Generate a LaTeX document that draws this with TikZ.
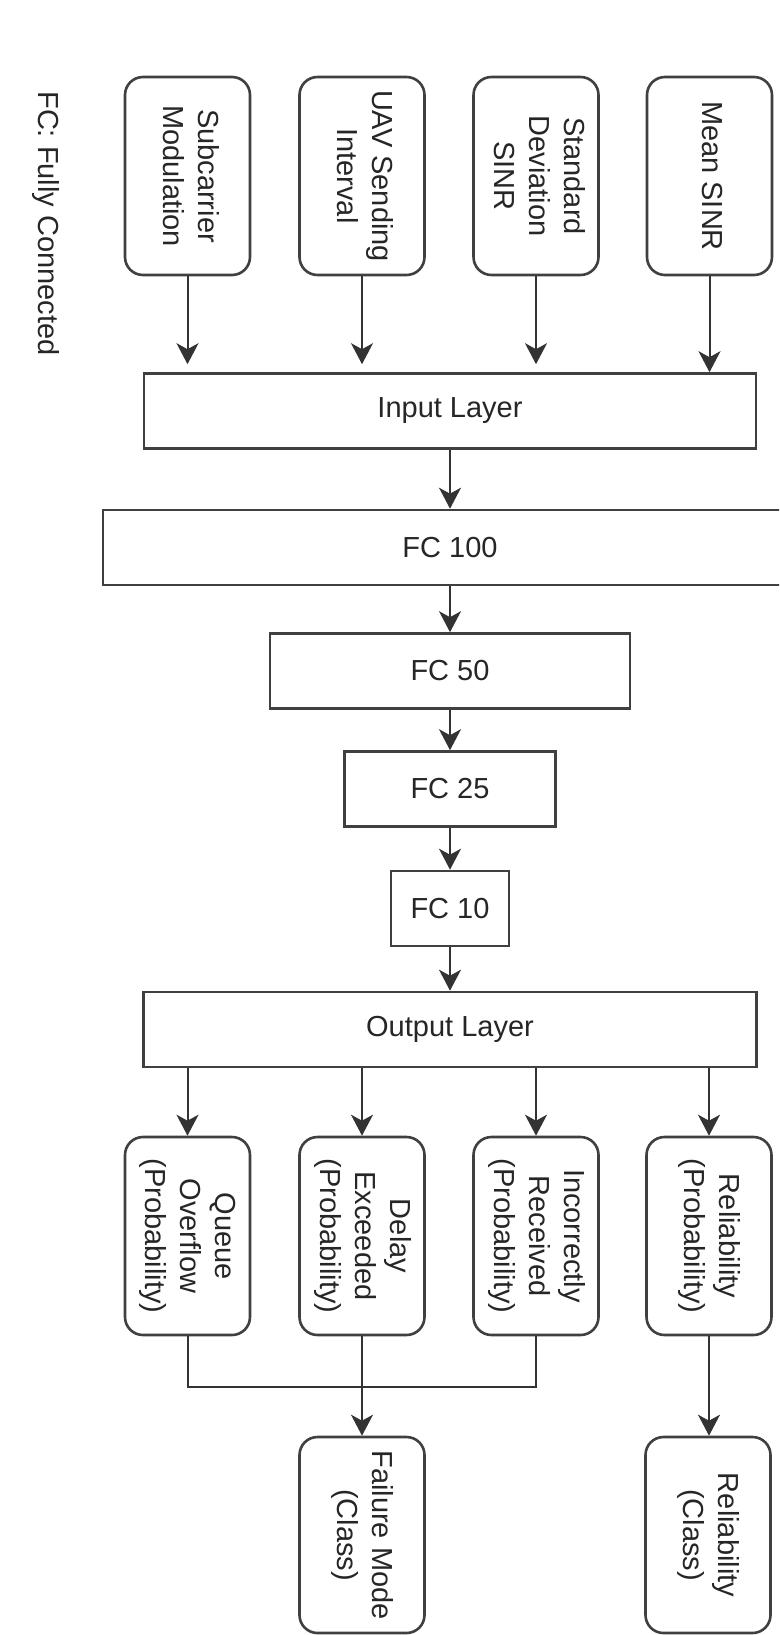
\documentclass[tikz,border=0pt]{standalone}
\usepackage{fontspec}
\usepackage{graphicx}
\setmainfont{Liberation Sans}
\usetikzlibrary{arrows.meta}
% vertical multi-line label, read top to bottom
\newcommand\vlabel[1]{\rotatebox{-90}{\begin{tabular}{@{}c@{}}#1\end{tabular}}}
\begin{document}
\begin{tikzpicture}[x=1pt,y=-1pt,
  every node/.style={font=\fontsize{29}{35}\selectfont, text=black!85},
  rbox/.style={draw=black!75, line width=2.6pt, rounded corners=18pt,
    minimum width=125pt, minimum height=198pt, inner sep=0pt},
  layer/.style={draw=black!75, line width=2.6pt, minimum height=75pt, inner sep=0pt},
  arr/.style={-{Stealth[length=21pt,width=22pt,inset=6pt]}, line width=2pt, draw=black!80},
  conn/.style={line width=2pt, draw=black!80}]

\useasboundingbox (0,0) rectangle (779,1635);
\fill[white] (0,0) rectangle (779,1635);
\clip (0,0) rectangle (779,1635);

% legend
\node (fc) at (46,223.5) {\rotatebox{-90}{FC: Fully Connected}};

% input features
\node[rbox] (sub)  at (187.5,176) {\vlabel{Subcarrier\\Modulation}};
\node[rbox] (uav)  at (362,176)   {\vlabel{UAV Sending\\Interval}};
\node[rbox] (std)  at (536,176)   {\vlabel{Standard\\Deviation\\SINR}};
\node[rbox] (mean) at (709.5,176) {\vlabel{Mean SINR}};

% network layers
\node[layer, minimum width=612pt] (in)    at (450,411)    {Input Layer};
\node[layer, minimum width=694pt] (fc100) at (450,547.5)  {FC 100};
\node[layer, minimum width=360pt] (fc50)  at (450,671)    {FC 50};
\node[layer, minimum width=211pt] (fc25)  at (450,789)    {FC 25};
\node[layer, minimum width=118pt] (fc10)  at (450,908.5)  {FC 10};
\node[layer, minimum width=613pt] (out)   at (450,1029.5) {Output Layer};

% probability outputs
\node[rbox] (qo) at (187.5,1236) {\vlabel{Queue\\Overflow\\(Probability)}};
\node[rbox] (de) at (362,1236)   {\vlabel{Delay\\Exceeded\\(Probability)}};
\node[rbox] (ir) at (536,1236)   {\vlabel{Incorrectly\\Received\\(Probability)}};
\node[rbox] (re) at (709,1236)   {\vlabel{Reliability\\(Probability)}};

% class outputs
\node[rbox, minimum height=196pt] (fm) at (362,1535) {\vlabel{Failure Mode\\(Class)}};
\node[rbox, minimum height=196pt] (rc) at (708,1535) {\vlabel{Reliability\\(Class)}};

% inputs into the input layer
\draw[arr, shorten >=8pt] (sub.south) -- (sub.south |- in.north);
\draw[arr, shorten >=8pt] (uav.south) -- (uav.south |- in.north);
\draw[arr, shorten >=8pt] (std.south) -- (std.south |- in.north);
\draw[arr] (mean.south) -- (mean.south |- in.north);

% layer chain
\draw[arr] (in) -- (fc100);
\draw[arr] (fc100) -- (fc50);
\draw[arr] (fc50) -- (fc25);
\draw[arr] (fc25) -- (fc10);
\draw[arr] (fc10) -- (out);

% output layer to probabilities
\draw[arr] (out.south -| qo.north) -- (qo.north);
\draw[arr] (out.south -| de.north) -- (de.north);
\draw[arr] (out.south -| ir.north) -- (ir.north);
\draw[arr] (out.south -| re.north) -- (re.north);

% probabilities to classes
\coordinate (join) at (362,1387);
\draw[conn] (qo.south) |- (join) -| (ir.south);
\draw[arr] (de.south) -- (fm.north);
\draw[arr] (re.south) -- (re.south |- rc.north);
\end{tikzpicture}
\end{document}
